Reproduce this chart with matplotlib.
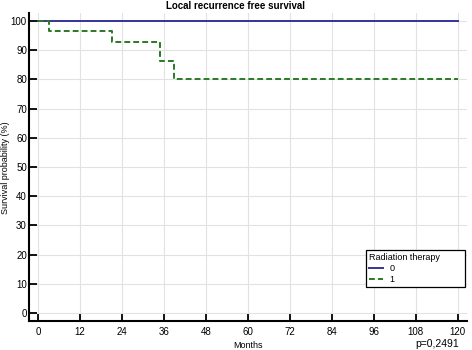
import matplotlib
matplotlib.use("Agg")
import matplotlib.pyplot as plt

plt.rcParams['font.family'] = ['Liberation Sans', 'DejaVu Sans']

# Kaplan-Meier step data
months_0 = [0, 120]
surv_0 = [100, 100]

months_1 = [0, 3, 21, 35, 39, 120]
surv_1 = [100, 96.6, 92.6, 86.3, 80.1, 80.1]

x_ticks = [0, 12, 24, 36, 48, 60, 72, 84, 96, 108, 120]
y_ticks = [0, 10, 20, 30, 40, 50, 60, 70, 80, 90, 100]

fig = plt.figure(figsize=(4.72, 3.5), dpi=100)
ax = fig.add_axes([0.0614, 0.083, 0.9276, 0.88])

ax.step(months_0, surv_0, where='post', color='#34349a', lw=1.4, label='0')
ax.step(months_1, surv_1, where='post', color='#2a7a25', lw=1.4,
        ls=(0, (3, 1.6)), label='1')

ax.set_xlim(-2.6, 122.6)
ax.set_ylim(-2.7, 102.7)
ax.set_xticks(x_ticks)
ax.set_yticks(y_ticks)
ax.grid(True, color='#e2e2e2', lw=0.8)
ax.set_axisbelow(True)

for s in ['top', 'right']:
    ax.spines[s].set_visible(False)
for s in ['left', 'bottom']:
    ax.spines[s].set_linewidth(1.5)
ax.tick_params(direction='in', length=6, width=1.3, labelsize=7)
ax.tick_params(axis='y', pad=1.5)
ax.tick_params(axis='x', pad=4)

ax.set_xlabel('Months', fontsize=6.5, labelpad=3)
# y label placed by hand, close to the left edge as in the reference
fig.text(0.012, 0.52, 'Survival probability (%)', rotation=90,
         ha='center', va='center', fontsize=6.5)
fig.text(0.5, 0.982, 'Local recurrence free survival', ha='center', va='center',
         fontsize=7, fontweight='bold')
fig.text(0.973, 0.003, 'p=0,2491', ha='right', va='bottom', fontsize=7.5)

leg = ax.legend(title='Radiation therapy         ', loc='lower right',
                bbox_to_anchor=(0.997, 0.11), borderaxespad=0,
                fontsize=6.5, title_fontsize=6.5,
                fancybox=False, framealpha=1, edgecolor='black',
                handlelength=1.6, borderpad=0.35, labelspacing=0.2,
                handletextpad=0.7, alignment='left')
leg.get_frame().set_linewidth(0.9)

fig.savefig('out.png', dpi=100)
